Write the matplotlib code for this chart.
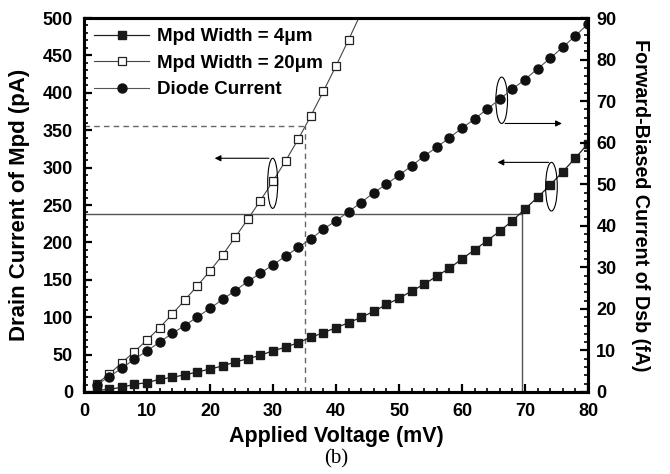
import matplotlib
matplotlib.use("Agg")
import matplotlib.pyplot as plt
from matplotlib.patches import Ellipse
from matplotlib.ticker import MultipleLocator

plt.rcParams['font.family'] = ['Liberation Sans', 'DejaVu Sans']
plt.rcParams['font.weight'] = 'bold'

# ---- data ----
v_4um = [2, 4, 6, 8, 10, 12, 14, 16, 18, 20, 22, 24, 26, 28, 30, 32, 34, 36, 38, 40,
         42, 44, 46, 48, 50, 52, 54, 56, 58, 60, 62, 64, 66, 68, 70, 72, 74, 76, 78, 80]
i_4um = [2, 3.6, 6.3, 10.3, 12.5, 17, 19.6, 23, 26.7, 30.7, 34.8, 40.1, 44.5, 49, 55.2,
         59.8, 66, 73, 79.3, 86, 92.6, 99.8, 107.8, 117, 125.2, 135, 144, 155, 165.4,
         178, 190, 202.3, 215, 229, 244.7, 260.3, 276.7, 294.5, 313, 332]

v_20um = [2, 4, 6, 8, 10, 12, 14, 16, 18, 20, 22, 24, 26, 28, 30, 32, 34, 36, 38, 40, 42, 44]
i_20um = [11, 24, 39, 54, 69.5, 86, 104, 123, 142, 162, 183, 207, 231, 256, 282, 309,
          338, 369, 402, 436, 471, 507]

v_diode = v_4um
i_diode = [1.7, 3.7, 5.7, 7.9, 9.9, 12.0, 14.1, 16.0, 18.1, 20.1, 22.3, 24.4, 26.6, 28.6,
           30.6, 32.7, 34.8, 36.8, 39.2, 41.2, 43.4, 45.6, 48.0, 50.0, 52.2, 54.4, 56.8,
           58.9, 61.2, 63.5, 65.7, 68.1, 70.5, 72.9, 75.2, 77.8, 80.3, 83.0, 85.7, 88.6]

labels = ['Mpd Width = 4\u03bcm', 'Mpd Width = 20\u03bcm', 'Diode Current']

fig = plt.figure(figsize=(6.7, 4.74), dpi=100)
ax = fig.add_axes([0.1254, 0.173, 0.7522, 0.789])
ax2 = ax.twinx()

# reference lines
ax.plot([0, 35], [355, 355], color='#666666', lw=1.0, ls=(0, (4, 3)))
ax.plot([35, 35], [0, 355], color='#666666', lw=1.0, ls=(0, (4, 3)))
ax.plot([0, 69.5], [237.6, 237.6], color='#555555', lw=1.0)
ax.plot([69.5, 69.5], [0, 237.6], color='#555555', lw=1.0)

l1, = ax.plot(v_4um, i_4um, color='#222222', lw=0.9, marker='s', ms=5.5,
              mfc='#1a1a1a', mec='#1a1a1a', label=labels[0])
l2, = ax.plot(v_20um, i_20um, color='#444444', lw=0.8, marker='s', ms=5.5,
              mfc='white', mec='#222222', mew=0.9, label=labels[1])
l3, = ax2.plot(v_diode, i_diode, color='#555555', lw=0.8, marker='o', ms=6.5,
               mfc='#111111', mec='#111111', label=labels[2])

ax.set_xlim(0, 80)
ax.set_ylim(0, 500)
ax2.set_ylim(0, 90)

# annotations: ellipses and arrows (left-axis data coordinates)
for (cx, cy, w, h) in [(29.95, 279, 1.6, 67), (66.3, 390, 1.85, 62), (74.2, 274.5, 1.85, 65)]:
    ax.add_patch(Ellipse((cx, cy), w, h, fill=False, ec='black', lw=0.8, zorder=5))
arrow_kw = dict(arrowstyle='-|>', color='black', lw=0.8, mutation_scale=9)
ax.annotate('', xy=(20.3, 312.5), xytext=(29.8, 312.5), arrowprops=arrow_kw)
ax.annotate('', xy=(76.3, 359), xytext=(66.4, 359), arrowprops=arrow_kw)
ax.annotate('', xy=(65.2, 307), xytext=(74.2, 307), arrowprops=arrow_kw)

# ticks
ax.xaxis.set_major_locator(MultipleLocator(10))
ax.xaxis.set_minor_locator(MultipleLocator(2))
ax.yaxis.set_major_locator(MultipleLocator(50))
ax.yaxis.set_minor_locator(MultipleLocator(10))
ax2.yaxis.set_major_locator(MultipleLocator(10))
ax2.yaxis.set_minor_locator(MultipleLocator(2))
for a in (ax, ax2):
    a.tick_params(which='major', direction='in', length=6, width=1.6, labelsize=13)
    a.tick_params(which='minor', direction='in', length=3, width=1.2)
    for s in a.spines.values():
        s.set_linewidth(2.2)
ax.tick_params(axis='y', which='major', pad=8)
ax.tick_params(axis='x', which='major', pad=8)
ax2.tick_params(axis='y', which='major', pad=6)
ax.tick_params(axis='y', which='both', right=False)
ax.tick_params(axis='x', which='both', top=False)
for lab in ax.get_xticklabels() + ax.get_yticklabels() + ax2.get_yticklabels():
    lab.set_fontweight('bold')

ax.set_xlabel('Applied Voltage (mV)', fontsize=15.5, fontweight='bold', labelpad=4)
ax.set_ylabel('Drain Current of Mpd (pA)', fontsize=16, fontweight='bold', labelpad=9)
ax2.set_ylabel('Forward-Biased Current of Dsb (fA)', fontsize=14.2, fontweight='bold',
               rotation=-90, labelpad=24)

leg = ax.legend(handles=[l1, l2, l3], loc='upper left', frameon=False, fontsize=13.5,
                handlelength=2.9, handletextpad=0.45, labelspacing=0.5,
                borderaxespad=0.15, bbox_to_anchor=(0.0, 1.0))
for t in leg.get_texts():
    t.set_fontweight('bold')

fig.text(0.5 * (0.1254 + 0.8776), 0.012, '(b)', ha='center', va='bottom',
         fontsize=15, family=['Liberation Serif', 'DejaVu Serif'], fontweight='normal')

fig.savefig('out.png', dpi=100)
